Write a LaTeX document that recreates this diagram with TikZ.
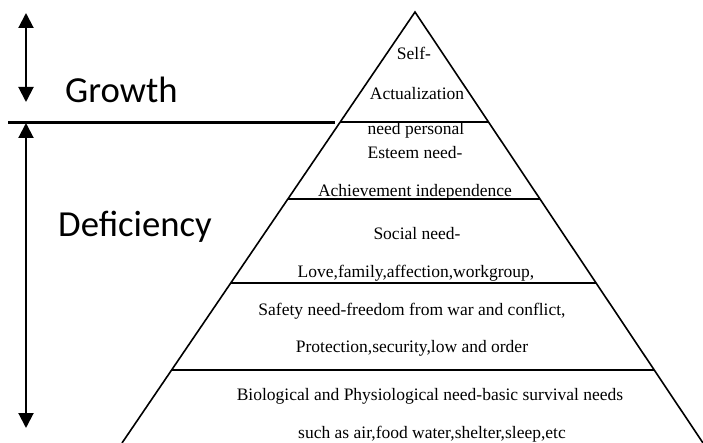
\documentclass[tikz,border=0pt]{standalone}
\usepackage{fontspec}
\setmainfont{Liberation Serif}
\newfontfamily\calib{Carlito}
\usetikzlibrary{arrows.meta}
\begin{document}
\begin{tikzpicture}[x=1pt,y=-1pt,
  lvl/.style={anchor=base, inner sep=0pt, font=\fontsize{17.5}{20}\selectfont},
  side/.style={anchor=base west, inner sep=0pt, font=\calib\fontsize{36.7}{40}\selectfont},
  edgeline/.style={line width=1.6pt},
  tier/.style={line width=1.8pt},
  dbl/.style={line width=2pt, {Triangle[width=15pt,length=15pt]}-{Triangle[width=15pt,length=15pt]}},
  sep/.style={line width=3pt}
  ]
\useasboundingbox (0,0) rectangle (703,443);
\fill[white] (0,0) rectangle (703,443);

% pyramid
\coordinate (apex) at (415,12);
\coordinate (bl) at (122,443);
\coordinate (br) at (703,443);
\draw[edgeline] (bl) -- (apex) -- (br);

\coordinate (t1l) at (340.2,122); \coordinate (t1r) at (488.5,122);
\coordinate (t2l) at (287.8,199); \coordinate (t2r) at (539.9,199);
\coordinate (t3l) at (230.7,283); \coordinate (t3r) at (596.0,283);
\coordinate (t4l) at (171.6,370); \coordinate (t4r) at (654.0,370);
\draw[tier] (t1l) -- (t1r);
\draw[tier] (t2l) -- (t2r);
\draw[tier] (t3l) -- (t3r);
\draw[tier] (t4l) -- (t4r);

% left side
\coordinate (sepL) at (8,122.5);
\coordinate (sepR) at (335,122.5);
\draw[sep] (sepL) -- (sepR);

\coordinate (gtop) at (26,13);
\coordinate (gbot) at (26,102);
\coordinate (dtop) at (26,123);
\coordinate (dbot) at (26,428);
\draw[dbl] (gtop) -- (gbot);
\draw[dbl] (dtop) -- (dbot);

\node[side] (growth) at (65,103) {Growth};
\node[side] (deficiency) at (58,237) {Deficiency};

% texts
\node[lvl] (s1) at (414,60) {Self-};
\node[lvl] (s2) at (417,100) {Actualization};
\node[lvl] (s3) at (416,135) {need personal};
\node[lvl] (e1) at (415,159) {Esteem need-};
\node[lvl] (e2) at (415,197) {Achievement independence};
\node[lvl] (so1) at (417,240) {Social need-};
\node[lvl] (so2) at (416,277) {Love,family,affection,workgroup,};
\node[lvl] (sa1) at (412,315) {Safety need-freedom from war and conflict,};
\node[lvl] (sa2) at (412,352) {Protection,security,low and order};
\node[lvl] (b1) at (430,400) {Biological and Physiological need-basic survival needs};
\node[lvl] (b2) at (432,438) {such as air,food water,shelter,sleep,etc};
\end{tikzpicture}
\end{document}
